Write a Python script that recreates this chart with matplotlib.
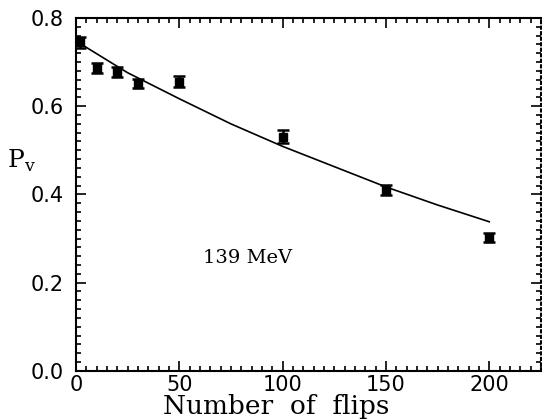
import matplotlib.pyplot as plt
from matplotlib.ticker import MultipleLocator

# measured points
flips = [2, 10, 20, 30, 50, 100, 150, 200]
pv = [0.745, 0.687, 0.677, 0.651, 0.656, 0.531, 0.410, 0.302]
pv_err = [0.012, 0.011, 0.011, 0.010, 0.013, 0.015, 0.011, 0.011]

# fitted curve
fit_x = [0, 25, 50, 75, 100, 125, 150, 175, 200]
fit_y = [0.748, 0.676, 0.617, 0.560, 0.509, 0.463, 0.417, 0.376, 0.338]

plt.rcParams['font.family'] = ['DejaVu Serif']

fig = plt.figure(figsize=(5.42, 4.19), dpi=100)
ax = fig.add_axes([0.140, 0.115, 0.858, 0.842])

ax.plot(fit_x, fit_y, color="black", linewidth=1.2)
ax.errorbar(flips, pv, yerr=pv_err, fmt="s", color="black",
            markersize=6, capsize=4, elinewidth=1.8, capthick=1.8)

ax.set_xlim(0, 225)
ax.set_ylim(0.0, 0.8)
ax.xaxis.set_major_locator(MultipleLocator(50))
ax.xaxis.set_minor_locator(MultipleLocator(5))
ax.yaxis.set_major_locator(MultipleLocator(0.2))
ax.yaxis.set_minor_locator(MultipleLocator(0.02))
ax.yaxis.set_major_formatter(plt.FormatStrFormatter("%.1f"))

ax.tick_params(which="both", direction="in", top=True, right=True, width=1.2)
ax.tick_params(which="major", length=7)
ax.tick_params(which="minor", length=3.5)
ax.tick_params(axis="y", pad=9)
ax.tick_params(axis="x", pad=3)
for lab in ax.get_xticklabels() + ax.get_yticklabels():
    lab.set_family("DejaVu Sans")
    lab.set_fontsize(15)
for s in ax.spines.values():
    s.set_linewidth(1.5)
ax.spines["right"].set_linestyle(":")

fig.text(0.51, 0.031, "Number  of  flips", fontsize=19, ha="center", va="center")
fig.text(0.012, 0.615, r"P$_\mathregular{v}$", fontsize=18, ha="left", va="center")
ax.text(83, 0.255, "139 MeV", fontsize=14, ha="center", va="center")

fig.savefig("out.png", dpi=100)
